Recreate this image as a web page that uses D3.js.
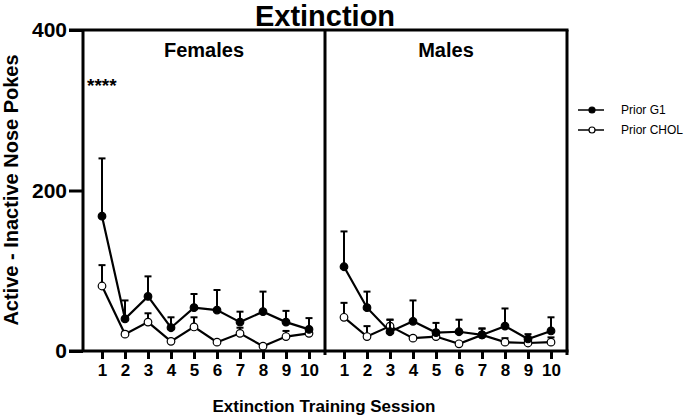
<!DOCTYPE html>
<html>
  <head>
    <meta charset="UTF-8" />
    <style>
      body { margin: 0; background: #fff; }
      svg { font-family: Arial, "Liberation Sans", sans-serif; }
    </style>
  </head>
  <body>
    <svg></svg>
    <script src="https://d3js.org/d3.v7.min.js"></script>
    <script>
      const width = 685, height = 416;

      const sessions = [1, 2, 3, 4, 5, 6, 7, 8, 9, 10];
      const yTicks = [0, 200, 400];

      // Females
      const femG1 = [168, 40, 68, 29, 54, 51, 36, 49, 36, 27];
      const femG1Err = [240, 63, 93, 42, 71, 76, 49, 74, 50, 41];
      const femChol = [81, 21, 36, 12, 30, 11, 22, 6, 18, 22];
      const femCholErr = [107, 24, 47, 15, 42, 13, 29, 7, 25, 25];

      // Males
      const maleG1 = [105, 54, 24, 37, 23, 24, 20, 31, 15, 25];
      const maleG1Err = [149, 74, 39, 63, 35, 39, 28, 53, 21, 42];
      const maleChol = [42, 18, 31, 16, 18, 9, 20, 11, 10, 11];
      const maleCholErr = [60, 31, 39, 18, 21, 11, 28, 16, 13, 17];

      const svg = d3.select("svg").attr("width", width).attr("height", height);

      const pLeft = 83, pMid = 325, pRight = 567, pTop = 30, pBottom = 351;

      const y = d3.scaleLinear().domain([0, 400]).range([pBottom, pTop]);

      const panels = [
        { name: "Females", x0: pLeft, x1: pMid, g1: femG1, g1e: femG1Err, ch: femChol, che: femCholErr },
        { name: "Males", x0: pMid, x1: pRight, g1: maleG1, g1e: maleG1Err, ch: maleChol, che: maleCholErr },
      ];

      // y axis
      const yAxis = svg.append("g")
        .attr("transform", "translate(" + pLeft + ",0)")
        .call(d3.axisLeft(y).tickValues(yTicks).tickSize(14).tickPadding(2));
      yAxis.select(".domain").remove();
      yAxis.selectAll("line").attr("stroke-width", 3);
      yAxis.selectAll("text").attr("font-size", 21).attr("font-weight", "bold").attr("fill", "#000");

      panels.forEach(p => {
        const x = d3.scaleLinear().domain([1, 10]).range([p.x0 + 19, p.x0 + 226]);

        const xAxis = svg.append("g")
          .attr("transform", "translate(0," + pBottom + ")")
          .call(d3.axisBottom(x).tickValues(sessions).tickFormat(d3.format("d")).tickSize(8).tickPadding(5));
        xAxis.select(".domain").remove();
        xAxis.selectAll("line").attr("stroke-width", 3);
        xAxis.selectAll("text").attr("font-size", 17).attr("font-weight", "bold").attr("fill", "#000");

        svg.append("text")
          .attr("x", (p.x0 + p.x1) / 2)
          .attr("y", 57)
          .attr("text-anchor", "middle")
          .attr("font-size", 20)
          .attr("font-weight", "bold")
          .text(p.name);

        const line = d3.line().x((d, i) => x(sessions[i])).y(d => y(d));

        [[p.ch, p.che, "#fff"], [p.g1, p.g1e, "#000"]].forEach(([vals, errs, fill]) => {
          const g = svg.append("g");
          // error bars (upper only)
          g.selectAll(".err").data(vals).join("line")
            .attr("x1", (d, i) => x(sessions[i])).attr("x2", (d, i) => x(sessions[i]))
            .attr("y1", d => y(d)).attr("y2", (d, i) => y(errs[i]))
            .attr("stroke", "#000").attr("stroke-width", 2);
          g.selectAll(".cap").data(errs).join("line")
            .attr("x1", (d, i) => x(sessions[i]) - 3.5).attr("x2", (d, i) => x(sessions[i]) + 3.5)
            .attr("y1", d => y(d)).attr("y2", d => y(d))
            .attr("stroke", "#000").attr("stroke-width", 2);
          g.append("path").datum(vals)
            .attr("d", line).attr("fill", "none")
            .attr("stroke", "#000").attr("stroke-width", 2.2);
          g.selectAll("circle").data(vals).join("circle")
            .attr("cx", (d, i) => x(sessions[i])).attr("cy", d => y(d))
            .attr("r", 3.8).attr("fill", fill)
            .attr("stroke", "#000").attr("stroke-width", 1.2);
        });
      });

      // frame
      const frame = svg.append("g").attr("stroke", "#000").attr("stroke-width", 3).attr("fill", "none");
      frame.append("line").attr("x1", pLeft - 14).attr("x2", pRight + 1.5).attr("y1", pTop).attr("y2", pTop);
      frame.append("line").attr("x1", pLeft - 14).attr("x2", pRight + 1.5).attr("y1", pBottom).attr("y2", pBottom);
      frame.append("line").attr("x1", pLeft).attr("x2", pLeft).attr("y1", pTop).attr("y2", pBottom);
      frame.append("line").attr("x1", pMid).attr("x2", pMid).attr("y1", pTop).attr("y2", pBottom + 4);
      frame.append("line").attr("x1", pRight).attr("x2", pRight).attr("y1", pTop).attr("y2", pBottom + 4);

      svg.append("text")
        .attr("x", 87).attr("y", 92)
        .attr("font-size", 19).attr("font-weight", "bold")
        .text("****");

      // titles
      svg.append("text")
        .attr("x", 325).attr("y", 26)
        .attr("text-anchor", "middle")
        .attr("font-size", 29).attr("font-weight", "bold")
        .text("Extinction");

      svg.append("text")
        .attr("transform", "translate(18,190) rotate(-90)")
        .attr("text-anchor", "middle")
        .attr("font-size", 20).attr("font-weight", "bold")
        .text("Active - Inactive Nose Pokes");

      svg.append("text")
        .attr("x", 324).attr("y", 412)
        .attr("text-anchor", "middle")
        .attr("font-size", 17).attr("font-weight", "bold")
        .text("Extinction Training Session");

      // legend
      const legendItems = ["Prior G1", "Prior CHOL"];
      const legendFill = ["#000", "#fff"];
      const lg = svg.append("g");
      legendItems.forEach((name, i) => {
        const ly = 110 + i * 20;
        lg.append("line").attr("x1", 578).attr("x2", 604).attr("y1", ly).attr("y2", ly)
          .attr("stroke", "#000").attr("stroke-width", 1.5);
        lg.append("circle").attr("cx", 592).attr("cy", ly).attr("r", 3)
          .attr("fill", legendFill[i]).attr("stroke", "#000").attr("stroke-width", 1.2);
        lg.append("text").attr("x", 621).attr("y", ly + 4)
          .attr("font-size", 12).text(name);
      });
    </script>
  </body>
</html>
